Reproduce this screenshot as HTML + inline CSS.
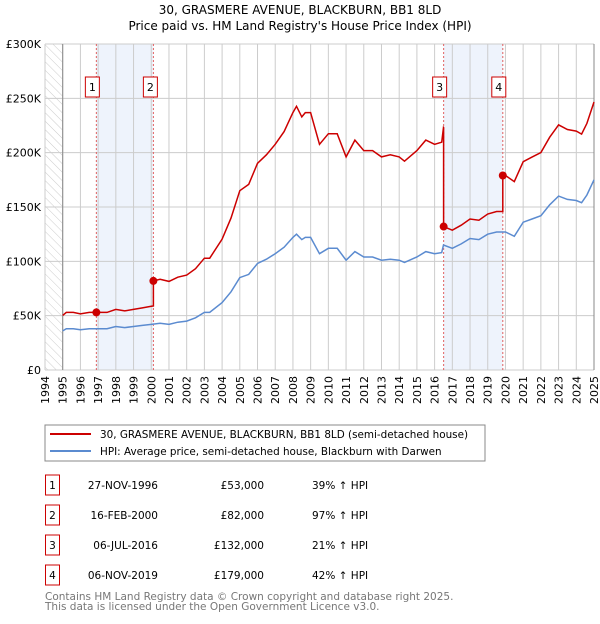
<!DOCTYPE html>
<html><head><meta charset="utf-8"><style>
body{margin:0;background:#fff;width:600px;height:620px;overflow:hidden;font-family:"DejaVu Sans","Liberation Sans",sans-serif}
svg text{font-family:"DejaVu Sans","Liberation Sans",sans-serif}
</style></head><body>
<svg id="c" width="600" height="620" xmlns="http://www.w3.org/2000/svg">
<defs><pattern id="hatch" width="6" height="6" patternUnits="userSpaceOnUse" patternTransform="rotate(-45)"><line x1="0" y1="0" x2="0" y2="6" stroke="#ccc" stroke-width="1"/></pattern></defs>
<text x="300" y="14" text-anchor="middle" font-size="12">30, GRASMERE AVENUE, BLACKBURN, BB1 8LD</text>
<text x="300" y="30" text-anchor="middle" font-size="12">Price paid vs. HM Land Registry's House Price Index (HPI)</text>
<g id="grid"></g><g id="marks"></g><g id="axes"></g>
<g>
<rect x="45" y="425" width="440" height="36" fill="#fff" stroke="#888"/>
<line x1="50" y1="434" x2="91" y2="434" stroke="#cc0000" stroke-width="2"/>
<text x="100" y="438" font-size="10.4">30, GRASMERE AVENUE, BLACKBURN, BB1 8LD (semi-detached house)</text>
<line x1="50" y1="451" x2="91" y2="451" stroke="#5b8bd0" stroke-width="2"/>
<text x="100" y="455" font-size="10.4">HPI: Average price, semi-detached house, Blackburn with Darwen</text>
</g>
<g id="table"></g>
<text x="45" y="600" font-size="10.5" fill="#777">Contains HM Land Registry data © Crown copyright and database right 2025.</text>
<text x="45" y="610" font-size="10.5" fill="#777">This data is licensed under the Open Government Licence v3.0.</text>
</svg>
<script>
const hpiYears=[1995,1995.2,1995.6,1996,1996.5,1997,1997.5,1998,1998.5,1999,1999.5,2000,2000.5,2001,2001.5,2002,2002.5,2003,2003.3,2004,2004.5,2005,2005.5,2006,2006.5,2007,2007.5,2008,2008.2,2008.5,2008.7,2009,2009.5,2010,2010.5,2011,2011.5,2012,2012.5,2013,2013.5,2014,2014.3,2015,2015.5,2016,2016.4,2016.5,2017,2017.5,2018,2018.5,2019,2019.5,2020,2020.5,2021,2021.5,2022,2022.5,2023,2023.5,2024,2024.3,2024.6,2025];
const hpiValues=[36,38,38,37,38,38,38,40,39,40,41,42,43,42,44,45,48,53,53,62,72,85,88,98,102,107,113,122,125,120,122,122,107,112,112,101,109,104,104,101,102,101,99,104,109,107,108,115,112,116,121,120,125,127,127,123,136,139,142,152,160,157,156,154,161,175];
const saleLabels=["1","2","3","4"];
const saleYears=[1996.9,2000.12,2016.51,2019.85];
const salePrices=[53000,82000,132000,179000];
const saleDates=["27-NOV-1996","16-FEB-2000","06-JUL-2016","06-NOV-2019"];
const salePriceText=["£53,000","£82,000","£132,000","£179,000"];
const saleHpiText=["39% ↑ HPI","97% ↑ HPI","21% ↑ HPI","42% ↑ HPI"];
const yTicks=[0,50000,100000,150000,200000,250000,300000];
const yTickLabels=["£0","£50K","£100K","£150K","£200K","£250K","£300K"];
const xTicks=[1994,1995,1996,1997,1998,1999,2000,2001,2002,2003,2004,2005,2006,2007,2008,2009,2010,2011,2012,2013,2014,2015,2016,2017,2018,2019,2020,2021,2022,2023,2024,2025];

const X0=45,X1=594,Y0=370,Y1=44;
const xs=y=>X0+(y-1994)/31*(X1-X0);
const ys=v=>Y0-v/300000*(Y0-Y1);
const NS="http://www.w3.org/2000/svg";
function mk(p,t,a){const e=document.createElementNS(NS,t);for(const k in a)e.setAttribute(k,a[k]);p.appendChild(e);return e;}
const grid=document.getElementById('grid'),marks=document.getElementById('marks'),axes=document.getElementById('axes'),table=document.getElementById('table');
function hpiAt(y){for(let i=1;i<hpiYears.length;i++){if(y<=hpiYears[i]){const t=(y-hpiYears[i-1])/(hpiYears[i]-hpiYears[i-1]);return (hpiValues[i-1]+t*(hpiValues[i]-hpiValues[i-1]))*1000;}}return hpiValues[hpiValues.length-1]*1000;}
for(const [a,b] of [[0,1],[2,3]]){
 const r=mk(grid,'rect',{x:xs(saleYears[a]),y:Y1,width:xs(saleYears[b])-xs(saleYears[a]),height:Y0-Y1,fill:'#eef3fc'});
 
 
}
const h=mk(grid,'rect',{x:X0,y:Y1,width:xs(1995)-X0,height:Y0-Y1,fill:'url(#hatch)'});


xTicks.forEach(t=>{const l=mk(grid,'line',{x1:xs(t),x2:xs(t),y1:Y1,y2:Y0,stroke:'#ccc'});
 
 
 const tx=mk(axes,'text',{x:0,y:0,'font-size':11,'text-anchor':'end',transform:`translate(${xs(t)+4},${Y0+6}) rotate(-90)`});tx.textContent=t;
 
 });
yTicks.forEach((t,i)=>{const l=mk(grid,'line',{x1:X0,x2:X1,y1:ys(t),y2:ys(t),stroke:'#ccc'});
 
 
 const tx=mk(axes,'text',{x:X0-4,y:ys(t)+4,'font-size':11,'text-anchor':'end'});tx.textContent=yTickLabels[i];
 
 });
const ax=mk(grid,'line',{x1:xs(1995),x2:xs(1995),y1:Y1,y2:Y0,stroke:'#888'});


const rb=mk(grid,'line',{x1:X1,x2:X1,y1:Y1,y2:Y0,stroke:'#888'});


saleYears.forEach((y,i)=>{const l=mk(marks,'line',{x1:xs(y),x2:xs(y),y1:Y1,y2:Y0,stroke:'#e06060','stroke-dasharray':'2,2'});
 
 
 const r=mk(marks,'rect',{x:0,y:77,width:14,height:20,fill:'#fff',stroke:'#cc0000'});
 r.setAttribute('x',xs(y)-(i==0||i==2?11:7)+(i==1?-3:0)+(i==3?-4:0));
 
 
 const t=mk(marks,'text',{x:+r.getAttribute('x')+7,y:91,'font-size':11,'text-anchor':'middle'});t.textContent=saleLabels[i];
 
 });
const hp=mk(marks,'path',{d:hpiYears.map((y,i)=>(i?'L':'M')+xs(y).toFixed(1)+','+ys(hpiValues[i]*1000).toFixed(1)).join(''),fill:'none',stroke:'#5b8bd0','stroke-width':1.5});


let d='';
hpiYears.forEach((y,i)=>{let k=0;for(let j=0;j<saleYears.length;j++)if(y>=saleYears[j])k=j;
 let ratio=salePrices[k]/hpiAt(saleYears[k]);
 const v=hpiValues[i]*1000*ratio;d+=(d?'L':'M')+xs(y).toFixed(1)+','+ys(v).toFixed(1);
 const nxt=saleYears.find(s=>s>y&&i+1<hpiYears.length&&s<=hpiYears[i+1]);
 if(nxt!==undefined){const kk=saleYears.indexOf(nxt);d+='L'+xs(nxt).toFixed(1)+','+ys(hpiAt(nxt)*ratio).toFixed(1)+'L'+xs(nxt).toFixed(1)+','+ys(salePrices[kk]).toFixed(1);}});
const pl=mk(marks,'path',{d:d,fill:'none',stroke:'#cc0000','stroke-width':1.5});


saleYears.forEach((y,i)=>{const c=mk(marks,'circle',{cx:xs(y),cy:ys(salePrices[i]),r:4,fill:'#cc0000'});
 
 });
saleLabels.forEach((lab,i)=>{const cy=485+i*30;
 const r=mk(table,'rect',{x:45.5,y:cy-10,width:14,height:20,fill:'#fff',stroke:'#cc0000'});
 
 
 const vals=[[lab,52.5,'middle'],[saleDates[i],158,'end'],[salePriceText[i],264,'end'],[saleHpiText[i],312,'start']];
 vals.forEach(([s,x,a],j)=>{const t=mk(table,'text',{x:x,y:cy+4,'font-size':10.5,'text-anchor':a});t.textContent=s;
  
  });});
</script>
</body></html>
